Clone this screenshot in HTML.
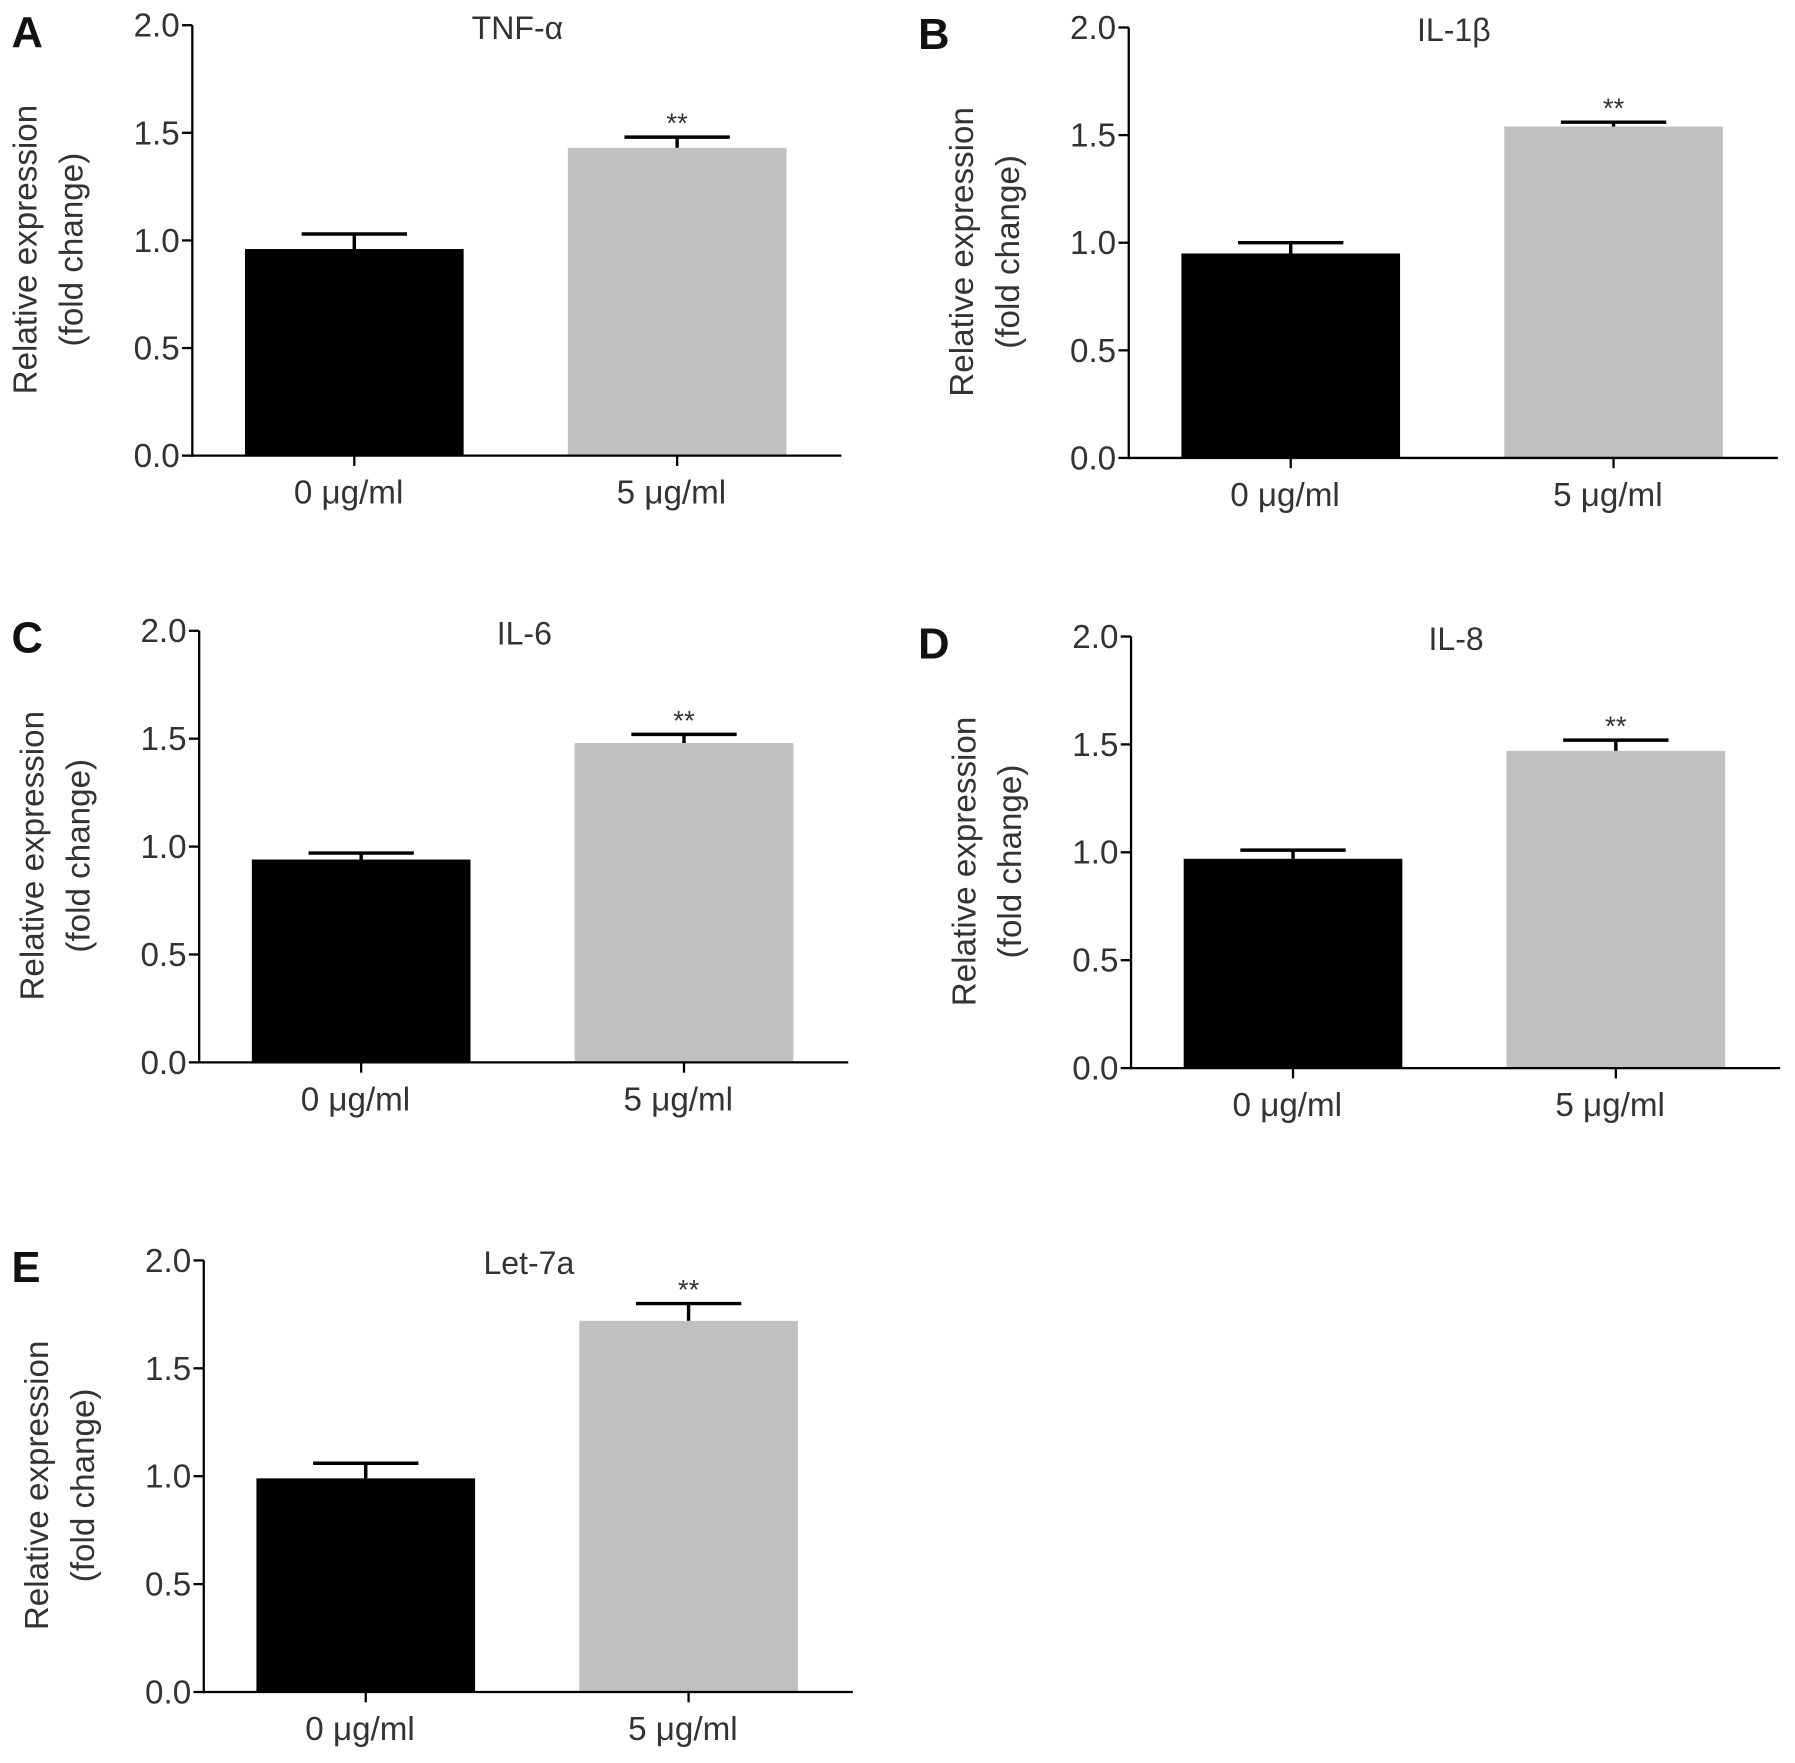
<!DOCTYPE html>
<html><head><meta charset="utf-8"><style>
html,body{margin:0;padding:0;background:#fff;}
svg{display:block;font-family:"Liberation Sans",sans-serif;}
</style></head><body>
<svg id="fig" width="1795" height="1763" viewBox="0 0 1568 1540" xmlns="http://www.w3.org/2000/svg"></svg>
<script>
const panelLetters = ["A","B","C","D","E"];
const titles = ["TNF-α","IL-1β","IL-6","IL-8","Let-7a"];
const categories = ["0 μg/ml","5 μg/ml"];
const ctrlValues = [0.96,0.95,0.94,0.97,0.99];
const ctrlErrors = [0.07,0.05,0.03,0.04,0.07];
const treatValues = [1.43,1.54,1.48,1.47,1.72];
const treatErrors = [0.05,0.02,0.04,0.05,0.08];
const yTicks = [0.0,0.5,1.0,1.5,2.0];
const yTickLabels = ["0.0","0.5","1.0","1.5","2.0"];
const sigLabels = ["**","**","**","**","**"];

const layouts = [
 {ax:168,y0:398,y2:22,lx:10},
 {ax:986,y0:400,y2:24,lx:802},
 {ax:174,y0:928,y2:551,lx:10},
 {ax:988,y0:933,y2:556,lx:802},
 {ax:178,y0:1478,y2:1101,lx:10}
];
const NS="http://www.w3.org/2000/svg";
const svg=document.getElementById('fig');
function mk(tag,attrs,parent,txt){const e=document.createElementNS(NS,tag);for(const k in attrs)e.setAttribute(k,attrs[k]);if(txt!==undefined)e.textContent=txt;parent.appendChild(e);return e;}

layouts.forEach((L,i)=>{
 const g=mk('g',{},svg);
 
 
 const y=v=>L.y0-(v/2)*(L.y0-L.y2);
 const xEnd=L.ax+567;
 const barW=191;
 const barX=[L.ax+46,L.ax+328];
 const vals=[ctrlValues[i],treatValues[i]];
 const errs=[ctrlErrors[i],treatErrors[i]];
 const cols=["#000","#c0c0c0"];
 const lt=mk('text',{x:L.lx,y:L.y2+19,'font-size':38,'font-weight':'bold',fill:'#111'},g,panelLetters[i]);
 
 
 const tt=mk('text',{x:L.ax+284,y:L.y2+12,'font-size':28,fill:'#333','text-anchor':'middle'},g,titles[i]);
 
 
 const cy=(L.y0+L.y2)/2+8;
 const yl=mk('text',{transform:`translate(${L.ax-136},${cy}) rotate(-90)`,'font-size':29,fill:'#333','text-anchor':'middle'},g);
 
 
 mk('tspan',{x:0,dy:0},yl,'Relative expression');
 mk('tspan',{x:0,dy:40},yl,'(fold change)');
 for(let k=0;k<2;k++){
  const cx=barX[k]+barW/2;
  const eb=mk('line',{x1:cx,x2:cx,y1:y(vals[k]),y2:y(vals[k]+errs[k]),stroke:'#000','stroke-width':3},g);
  
  
  const cap=mk('line',{x1:cx-46,x2:cx+46,y1:y(vals[k]+errs[k]),y2:y(vals[k]+errs[k]),stroke:'#000','stroke-width':3},g);
  
  
  const r=mk('rect',{x:barX[k],y:y(vals[k]),width:barW,height:L.y0-y(vals[k]),fill:cols[k]},g);
  
  
  const tk=mk('line',{x1:cx,x2:cx,y1:L.y0,y2:L.y0+9,stroke:'#000','stroke-width':2},g);
  
  
  const xl=mk('text',{x:cx-5,y:L.y0+42,'font-size':29,fill:'#333','text-anchor':'middle'},g,categories[k]);
  
  
 }
 const st=mk('text',{x:barX[1]+barW/2,y:y(treatValues[i]+treatErrors[i])-4,'font-size':24,fill:'#333','text-anchor':'middle'},g,sigLabels[i]);
 
 
 const ya=mk('line',{x1:L.ax,x2:L.ax,y1:L.y2,y2:L.y0+1,stroke:'#000','stroke-width':2},g);
 
 
 const xa=mk('line',{x1:L.ax-1,x2:xEnd,y1:L.y0,y2:L.y0,stroke:'#000','stroke-width':2},g);
 
 
 yTicks.forEach((t,j)=>{
  const tl=mk('line',{x1:L.ax-9,x2:L.ax,y1:y(t),y2:y(t),stroke:'#000','stroke-width':2},g);
  
  
  const tx=mk('text',{x:L.ax-11,y:y(t)+10,'font-size':29,fill:'#333','text-anchor':'end'},g,yTickLabels[j]);
  
  
 });
});
</script>
</body></html>
